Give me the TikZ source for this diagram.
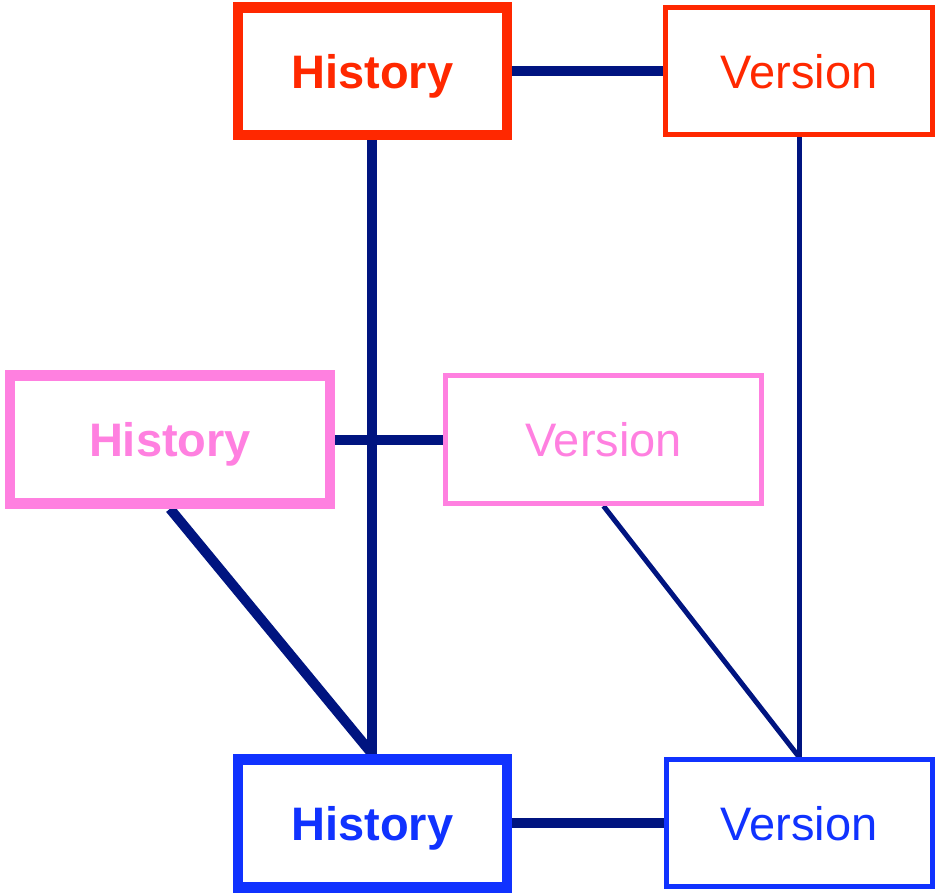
\documentclass[tikz,border=0pt]{standalone}
\usepackage{fontspec}
\setmainfont{Liberation Sans}
\definecolor{hred}{RGB}{255,40,0}
\definecolor{hpink}{RGB}{255,128,224}
\definecolor{hblue}{RGB}{16,50,255}
\definecolor{navy}{RGB}{0,20,128}
\pgfdeclarelayer{bg}
\pgfsetlayers{bg,main}
\begin{document}
\begin{tikzpicture}[x=1pt,y=-1pt,
  box/.style={draw, rectangle, inner sep=0pt, fill=white,
    text height=34pt, text depth=0pt, font=\fontsize{47}{56}\selectfont},
  hist/.style={box, line width=10.5pt, font=\fontsize{47}{56}\selectfont\bfseries},
  vers/.style={box, line width=5pt},
  link/.style={draw=navy, line width=10pt},
  thinlink/.style={draw=navy, line width=5pt}]
\useasboundingbox (0,0) rectangle (935,893);
% boxes
\node[hist, draw=hred, text=hred, minimum width=269pt, minimum height=127.5pt] (h1) at (372.25,71.25) {History};
\node[vers, draw=hred, text=hred, minimum width=267pt, minimum height=127pt] (v1) at (799.25,71.25) {Version};
\node[hist, draw=hpink, text=hpink, minimum width=320pt, minimum height=128pt] (p1) at (170,439.5) {History};
\node[vers, draw=hpink, text=hpink, minimum width=316pt, minimum height=128pt] (p2) at (603.5,439.5) {Version};
\node[hist, draw=hblue, text=hblue, minimum width=269pt, minimum height=128pt] (b1) at (372.25,823.25) {History};
\node[vers, draw=hblue, text=hblue, minimum width=266pt, minimum height=127pt] (b2) at (799.25,823.25) {Version};
% connectors
\begin{pgfonlayer}{bg}
\draw[link] (h1.east) -- (v1.west);
\draw[link] (p1.east) -- (p2.west);
\draw[link] (b1.east) -- (b2.west);
\draw[link] (h1.south) -- (b1.north);
\draw[link] (p1.south) -- (b1.north);
\draw[thinlink] (p2.south) -- (b2.north);
\draw[thinlink] (v1.south) -- (b2.north);
\end{pgfonlayer}
\end{tikzpicture}
\end{document}
